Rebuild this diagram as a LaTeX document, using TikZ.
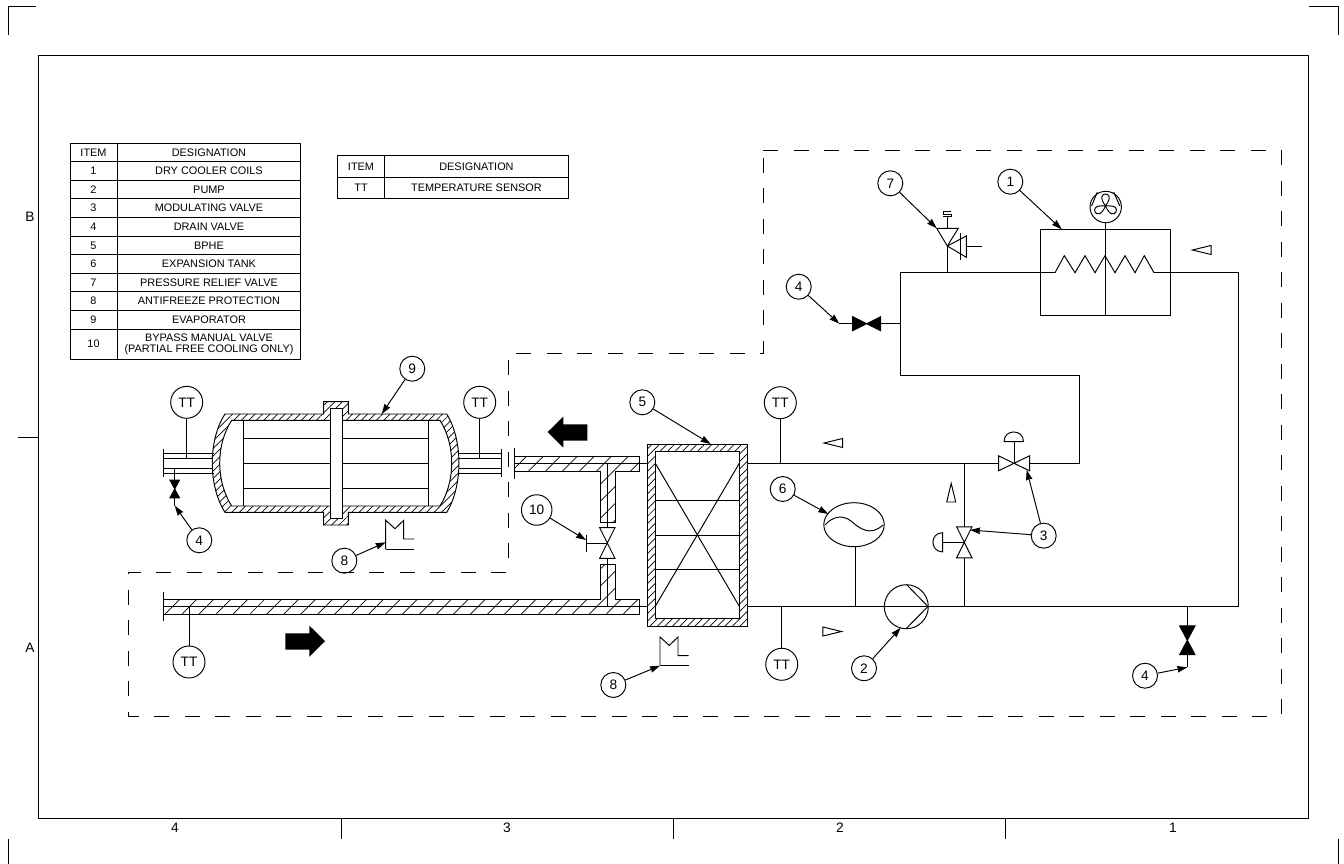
\documentclass[tikz,border=0pt]{standalone}
\usepackage{fontspec}
\setmainfont{Liberation Sans}
\usetikzlibrary{arrows.meta,patterns.meta,shapes.geometric}
\tikzstyle{pipe} = [line width=0.55pt,line join=miter]
\tikzstyle{pointer} = [line width=0.55pt,-{Stealth[length=2mm,width=1.3mm,inset=0.3pt]}]
\tikzstyle{zone} = [line width=0.55pt,dash pattern=on 3mm off 3.1mm]
\tikzstyle{tag} = [circle, draw, line width=0.55pt, minimum size=5mm, inner sep=0pt, font=\fontsize{7.8}{8}\selectfont]
\tikzstyle{sensor} = [tag, minimum size=6.4mm]
\tikzstyle{itemcell} = [draw, line width=0.55pt, minimum width=9.4mm, minimum height=3.72mm, inner sep=0pt, align=center, node distance=3.72mm, font=\fontsize{6.2}{6.3}\selectfont]
\tikzstyle{namecell} = [itemcell, minimum width=36.8mm, node distance=23.1mm]
\tikzstyle{sheet} = [font=\fontsize{7.8}{8}\selectfont, inner sep=0pt]
\tikzstyle{thinhatch} = [pipe, even odd rule, pattern={Lines[angle=45,distance=1.06mm,line width=0.4pt]}]
\tikzstyle{widehatch} = [pipe, pattern={Lines[angle=45,distance=2.4mm,line width=0.4pt]}]
\tikzset{
  pics/bowtie/.style n args={3}{code={\draw[pipe,fill=#3] (-#1,-#2) -- (#1,#2) -- (#1,-#2) -- (-#1,#2) -- cycle;}},
  pics/flowmark/.style={code={\draw[pipe] (-9.3,0) -- (9.3,-4.5) -- (9.3,4.5) -- cycle;}},
  pics/freeze/.style={code={\draw[pipe] (0,0) -- (0,-28.7) -- (9.3,-20.3) -- (18,-28.7) -- (18,-10) -- (28.6,-10);\draw[pipe] (0,0) -- (28.6,0);}},
  pics/blade/.style={code={\draw[pipe] (0,0) .. controls (-6.5,-9) and (-3,-12) .. (0,-12) .. controls (3,-12) and (6.5,-9) .. (0,0);}}
}

\begin{document}
\begin{tikzpicture}[x=0.02cm,y=-0.02cm]
        \useasboundingbox (0,0) rectangle (1344,864);
        \draw [pipe] (38,55.5) rectangle (1308,818.7);
        \draw [pipe] (36,6.5) -- (8.5,6.5) -- (8.5,35);
        \draw [pipe] (1309.3,6.5) -- (1338,6.5) -- (1338,35);
        \draw [pipe] (8.5,839) -- (8.5,864);
        \draw [pipe] (1338,839) -- (1338,864);
        \draw [pipe] (18,437) -- (38,437);
        \draw [pipe] (341,818.7) -- (341,839);
        \draw [pipe] (673,818.7) -- (673,839);
        \draw [pipe] (1005,818.7) -- (1005,839);
        \node (row-b) [sheet] at (30,217) {B};
        \node (row-a) [sheet] at (30,648) {A};
        \node (col-4) [sheet] at (175,828) {4};
        \node (col-3) [sheet, right of=col-4, xshift=5.64cm] {3};
        \node (col-2) [sheet, right of=col-3, xshift=5.66cm] {2};
        \node (col-1) [sheet, right of=col-2, xshift=5.66cm] {1};
        \draw [zone] (763,150) -- (1281,150) -- (1281,716) -- (128,716) -- (128,572) -- (508,572) -- (508,353) -- (763,353) -- cycle;

        \node (item-0) [itemcell] at (93.5,152.4) {ITEM};
        \node (name-0) [namecell, right of=item-0] {DESIGNATION};
        \node (item-1) [itemcell, below of=item-0] {1};
        \node (name-1) [namecell, right of=item-1] {DRY COOLER COILS};
        \node (item-2) [itemcell, below of=item-1] {2};
        \node (name-2) [namecell, right of=item-2] {PUMP};
        \node (item-3) [itemcell, below of=item-2] {3};
        \node (name-3) [namecell, right of=item-3] {MODULATING VALVE};
        \node (item-4) [itemcell, below of=item-3] {4};
        \node (name-4) [namecell, right of=item-4] {DRAIN VALVE};
        \node (item-5) [itemcell, below of=item-4] {5};
        \node (name-5) [namecell, right of=item-5] {BPHE};
        \node (item-6) [itemcell, below of=item-5] {6};
        \node (name-6) [namecell, right of=item-6] {EXPANSION TANK};
        \node (item-7) [itemcell, below of=item-6] {7};
        \node (name-7) [namecell, right of=item-7] {PRESSURE RELIEF VALVE};
        \node (item-8) [itemcell, below of=item-7] {8};
        \node (name-8) [namecell, right of=item-8] {ANTIFREEZE PROTECTION};
        \node (item-9) [itemcell, below of=item-8] {9};
        \node (name-9) [namecell, right of=item-9] {EVAPORATOR};
        \node (item-10) [itemcell, minimum height=6mm, below of=item-9, yshift=-1.14mm] {10};
        \node (name-10) [namecell, minimum height=6mm, right of=item-10] {BYPASS MANUAL VALVE\\(PARTIAL FREE COOLING ONLY)};
        \node (sensor-item-0) [itemcell, minimum height=4.4mm] at (361,166.3) {ITEM};
        \node (sensor-name-0) [namecell, minimum width=37mm, minimum height=4.4mm, right of=sensor-item-0] {DESIGNATION};
        \node (sensor-item-1) [itemcell, minimum height=4.3mm, below of=sensor-item-0, yshift=-0.63mm] {TT};
        \node (sensor-name-1) [namecell, minimum width=37mm, minimum height=4.3mm, right of=sensor-item-1] {TEMPERATURE SENSOR};

        \coordinate (hx-in-top) at (647.7,463.3);
        \coordinate (hx-out-top) at (747.3,463.3);
        \coordinate (hx-in-bottom) at (647.7,606.3);
        \coordinate (hx-out-bottom) at (747.3,606.3);
        \coordinate (pipe-top-left) at (514.7,463.3);
        \coordinate (pipe-bottom-left) at (163,606.3);
        \coordinate (bypass-top) at (607.3,463.3);
        \coordinate (bypass-bottom) at (607.3,606.3);
        \coordinate (bypass-valve) at (607.3,543);
        \coordinate (bypass-handle) at (586,543);
        \coordinate (mix-top) at (964.3,463.3);
        \coordinate (mix-bottom) at (964.3,606.3);
        \coordinate (mix-valve) at (964.3,542.3);
        \coordinate (mix-actuator) at (942.7,542.3);
        \coordinate (mod-valve) at (1014,463.3);
        \coordinate (mod-actuator) at (1014,441.7);
        \coordinate (corner-1) at (1079.3,463.3);
        \coordinate (corner-2) at (1079.3,375);
        \coordinate (corner-3) at (900.7,375);
        \coordinate (corner-4) at (900.7,272.7);
        \coordinate (coil-in) at (1055,272.7);
        \coordinate (coil-out) at (1154,272.7);
        \coordinate (corner-5) at (1238,272.7);
        \coordinate (corner-6) at (1238,606.3);
        \coordinate (drain-branch-top) at (900.7,323.7);
        \coordinate (drain-top-end) at (839.3,323.7);
        \coordinate (drain-top-valve) at (866.7,323.7);
        \coordinate (drain-branch-bottom) at (1187.3,606.3);
        \coordinate (drain-bottom-end) at (1187.3,667.3);
        \coordinate (drain-bottom-valve) at (1187.3,640.3);
        \coordinate (relief-branch) at (947.3,272.7);
        \coordinate (relief-valve) at (947.3,246);
        \coordinate (tank-branch) at (855,606.3);
        \coordinate (nozzle-left) at (174.7,468.3);
        \coordinate (drain-evap-end) at (174.7,505.7);
        \coordinate (drain-evap-valve) at (174.7,489);
        \coordinate (fan-center) at (1105.5,206);
        \coordinate (coil-stem) at (1105.3,315.3);

        \draw [widehatch] (514.7,456) -- (639,456) -- (639,471) -- (615,471) -- (615,522) -- (600,522) -- (600,471) -- (514.7,471) -- cycle;
        \draw [widehatch] (163,599) -- (600,599) -- (600,564) -- (615,564) -- (615,599) -- (639,599) -- (639,614) -- (163,614) -- cycle;
        \draw [pipe] (514.7,448) -- (514.7,478.7);
        \draw [pipe] (163,591.5) -- (163,621);
        \draw [pipe] (pipe-top-left) -- (hx-in-top);
        \draw [pipe] (pipe-bottom-left) -- (hx-in-bottom);
        \draw [pipe] (bypass-top) -- (607.3,527.7);
        \draw [pipe] (607.3,558.3) -- (bypass-bottom);
        \draw [pipe] (bypass-valve) -- (bypass-handle);
        \draw [pipe] (586,535) -- (586,552);
        \path (bypass-valve) pic[rotate=90] {bowtie={15.4}{7.7}{white}};

        \draw [thinhatch] (647.7,444) rectangle (747.3,626) (655.3,451.7) rectangle (739.3,618);
        \draw [pipe] (655.3,500) -- (739.3,500);
        \draw [pipe] (655.3,535) -- (739.3,535);
        \draw [pipe] (655.3,569) -- (739.3,569);
        \draw [pipe] (655.3,463.3) -- (739.3,606.3);
        \draw [pipe] (739.3,463.3) -- (655.3,606.3);

        \draw [pipe] (hx-out-top) -- (998.5,463.3);
        \draw [pipe] (1029.5,463.3) -- (corner-1) -- (corner-2) -- (corner-3) -- (corner-4) -- (coil-in);
        \draw [pipe] (coil-in) -- (1064.3,255.7) -- (1075,272.7) -- (1085,255.7) -- (1095,272.7) -- (1105,255.7) -- (1115,272.7) -- (1125,255.7) -- (1135,272.7) -- (1144.3,255.7) -- (coil-out);
        \draw [pipe] (coil-out) -- (corner-5) -- (corner-6) -- (hx-out-bottom);
        \draw [pipe] (1040.7,229.3) rectangle (1170,315.3);
        \draw [pipe] (1105.3,222.7) -- (coil-stem);
        \node (fan) [circle, draw, line width=0.55pt, minimum size=6.28mm, inner sep=0pt] at (1105.7,207) {};
        \draw [pipe] (1097.3,192.3) -- (1091.5,206);
        \draw [pipe] (1113.8,192.3) -- (1119.8,206);
        \path (fan-center) pic {blade};
        \path (fan-center) pic[rotate=120] {blade};
        \path (fan-center) pic[rotate=-120] {blade};

        \path (mod-valve) pic {bowtie={15.5}{7.5}{white}};
        \draw [pipe] (mod-valve) -- (mod-actuator);
        \draw [pipe] (1004,441.7) .. controls (1004,428.7) and (1023.5,428.7) .. (1023.5,441.7) -- cycle;
        \draw [pipe] (mix-top) -- (964.3,526.7);
        \draw [pipe] (964.3,557.7) -- (mix-bottom);
        \path (mix-valve) pic[rotate=90] {bowtie={15.5}{7.7}{white}};
        \draw [pipe] (mix-valve) -- (mix-actuator);
        \draw [pipe] (942.7,532.7) .. controls (929.7,532.7) and (929.7,551.9) .. (942.7,551.9) -- cycle;

        \draw [pipe] (drain-top-end) -- (852.7,323.7);
        \draw [pipe] (880.7,323.7) -- (drain-branch-top);
        \path (drain-top-valve) pic {bowtie={14}{7}{black}};
        \draw [pipe] (drain-branch-bottom) -- (1187.3,626);
        \draw [pipe] (1187.3,654.7) -- (drain-bottom-end);
        \path (drain-bottom-valve) pic[rotate=90] {bowtie={14.4}{7.7}{black}};

        \draw [pipe] (relief-branch) -- (relief-valve);
        \draw [pipe] (relief-valve) -- (936.7,228.3) -- (958.3,228.3) -- cycle;
        \draw [pipe] (relief-valve) -- (966.3,236) -- (966.3,257.3) -- cycle;
        \draw [pipe] (960,233) -- (960,260);
        \draw [pipe] (966.3,246.7) -- (982.3,246.7);
        \draw [pipe] (947.3,228.3) -- (947.3,216.7);
        \draw [pipe] (943.3,216.7) -- (951.3,216.7) -- (951.3,214) -- (943.3,214) -- (943.3,211.7) -- (951.3,211.7);

        \node (tank) [ellipse, draw, line width=0.55pt, minimum width=12.1mm, minimum height=8.8mm, inner sep=0pt] at (854,524.7) {};
        \draw [pipe] (825,525) .. controls (832,517) and (842,514) .. (851,521) .. controls (859,528) and (870,537) .. (883,525);
        \draw [pipe] (tank-branch) -- (855,546.7);
        \node (pump) [circle, draw, line width=0.55pt, minimum size=8.8mm, inner sep=0pt] at (906.3,606.7) {};
        \draw [pipe] (906.7,584.7) -- (928,606.5) -- (906.7,628);

        \path (833.3,443) pic[rotate=0] {flowmark};
        \path (832.2,631.5) pic[rotate=180] {flowmark};
        \path (951.2,492.7) pic[rotate=-90] {flowmark};
        \path (1201.7,250) pic[rotate=0] {flowmark};
        \fill (547.7,432) -- (563.3,416.7) -- (563.3,424.3) -- (587.3,424.3) -- (587.3,440.7) -- (563.3,440.7) -- (563.3,447.7) -- cycle;
        \fill (325,641) -- (309.4,625.7) -- (309.4,633.3) -- (285.4,633.3) -- (285.4,649.7) -- (309.4,649.7) -- (309.4,656.7) -- cycle;

        \draw [thinhatch] (225,414) -- (323.7,414) -- (323.7,401.7) -- (348.3,401.7) -- (348.3,414) -- (446.7,414) .. controls (463,440) and (463,486) .. (446.7,512.3) -- (348.3,512.3) -- (348.3,525) -- (323.7,525) -- (323.7,512.3) -- (225,512.3) .. controls (208,486) and (208,440) .. (225,414) -- cycle
                                   (231.7,420.3) -- (440,420.3) .. controls (455.6,445) and (455.6,481) .. (440,506) -- (231.7,506) .. controls (215.7,481) and (215.7,445) .. (231.7,420.3) -- cycle;
        \draw [pipe, fill=white] (330,408.3) rectangle (342.3,518.3);
        \draw [pipe] (243.3,420.3) -- (243.3,506);
        \draw [pipe] (428.3,420.3) -- (428.3,506);
        \draw [pipe] (243.3,438.7) -- (330,438.7);
        \draw [pipe] (243.3,463.7) -- (330,463.7);
        \draw [pipe] (243.3,488) -- (330,488);
        \draw [pipe] (342.3,438.7) -- (428.3,438.7);
        \draw [pipe] (342.3,463.7) -- (428.3,463.7);
        \draw [pipe] (342.3,488) -- (428.3,488);
        \draw [pipe] (163.3,448.7) -- (163.3,477.3);
        \draw [pipe] (163.3,453.7) -- (214,453.7);
        \draw [pipe] (163.3,458.7) -- (213,458.7);
        \draw [pipe] (163.3,468.3) -- (213,468.3);
        \draw [pipe] (163.3,473.3) -- (214,473.3);
        \draw [pipe] (501,448.7) -- (501,477.3);
        \draw [pipe] (458,453.7) -- (501,453.7);
        \draw [pipe] (459,458.7) -- (501,458.7);
        \draw [pipe] (459,468.3) -- (501,468.3);
        \draw [pipe] (458,473.3) -- (501,473.3);
        \draw [pipe] (nozzle-left) -- (174.7,480);
        \draw [pipe] (174.7,497.7) -- (drain-evap-end);
        \path (drain-evap-valve) pic[rotate=90] {bowtie={8.8}{4.7}{black}};
        \path (385.7,549) pic {freeze};
        \path (660,665.7) pic {freeze};

        \coordinate (stem-evap-left) at (186.7,458.7);
        \coordinate (stem-evap-right) at (479.7,458.7);
        \coordinate (stem-hx-top) at (780.3,463.3);
        \coordinate (stem-hx-bottom) at (781.7,606.3);
        \coordinate (stem-pipe) at (189,606.3);
        \node (tt-evap-left) [sensor, above of=stem-evap-left, yshift=0.128cm] {TT};
        \node (tt-evap-right) [sensor, above of=stem-evap-right, yshift=0.128cm] {TT};
        \node (tt-hx-top) [sensor, above of=stem-hx-top, yshift=0.212cm] {TT};
        \node (tt-hx-bottom) [sensor, below of=stem-hx-bottom, yshift=-0.16cm] {TT};
        \node (tt-pipe) [sensor, below of=stem-pipe, yshift=-0.114cm] {TT};
        \draw [pipe] (tt-evap-left) -- (stem-evap-left);
        \draw [pipe] (tt-evap-right) -- (stem-evap-right);
        \draw [pipe] (tt-hx-top) -- (stem-hx-top);
        \draw [pipe] (tt-hx-bottom) -- (stem-hx-bottom);
        \draw [pipe] (tt-pipe) -- (stem-pipe);

        \coordinate (tip-1) at (1061.7,229.3);
        \coordinate (tip-2) at (900.7,627.7);
        \coordinate (tip-3) at (1026.7,470);
        \coordinate (tip-3b) at (970,530);
        \coordinate (tip-5) at (710.7,444);
        \coordinate (tip-6) at (828.3,514);
        \coordinate (tip-7) at (936.7,228.3);
        \coordinate (tip-8) at (385.7,542.3);
        \coordinate (tip-8b) at (660,665.7);
        \coordinate (tip-9) at (381.7,414);
        \coordinate (tip-10) at (586,540);
        \node (tag-1) [tag, above of=tip-1, xshift=-1.028cm, yshift=-0.048cm] {1};
        \node (tag-2) [tag, below of=tip-2, xshift=-0.734cm, yshift=0.188cm] {2};
        \node (tag-3) [tag, below of=tip-3, xshift=0.34cm, yshift=-0.314cm] {3};
        \node (tag-4-top) [tag, above of=drain-top-end, xshift=-0.812cm, yshift=-0.26cm] {4};
        \node (tag-4-evap) [tag, below of=drain-evap-end, xshift=0.492cm, yshift=0.308cm] {4};
        \node (tag-4-bottom) [tag, left of=drain-bottom-end, xshift=0.154cm, yshift=-0.168cm] {4};
        \node (tag-5) [tag, above of=tip-5, xshift=-1.368cm, yshift=-0.166cm] {5};
        \node (tag-6) [tag, left of=tip-6, xshift=0.088cm, yshift=0.5cm] {6};
        \node (tag-7) [tag, above of=tip-7, xshift=-0.928cm, yshift=-0.1cm] {7};
        \node (tag-8) [tag, left of=tip-8, xshift=0.172cm, yshift=-0.368cm] {8};
        \node (tag-8b) [tag, left of=tip-8b, xshift=0.066cm, yshift=-0.386cm] {8};
        \node (tag-9) [tag, above of=tip-9, xshift=0.612cm, yshift=-0.094cm] {9};
        \node (tag-10) [tag, minimum size=6.1mm, left of=tip-10, xshift=0.014cm, yshift=0.6cm] {10};
        \draw [pointer] (tag-1) -- (tip-1);
        \draw [pointer] (tag-2) -- (tip-2);
        \draw [pointer] (tag-3) -- (tip-3);
        \draw [pointer] (tag-3) -- (tip-3b);
        \draw [pointer] (tag-4-top) -- (drain-top-end);
        \draw [pointer] (tag-4-evap) -- (drain-evap-end);
        \draw [pointer] (tag-4-bottom) -- (drain-bottom-end);
        \draw [pointer] (tag-5) -- (tip-5);
        \draw [pointer] (tag-6) -- (tip-6);
        \draw [pointer] (tag-7) -- (tip-7);
        \draw [pointer] (tag-8) -- (tip-8);
        \draw [pointer] (tag-8b) -- (tip-8b);
        \draw [pointer] (tag-9) -- (tip-9);
        \draw [pointer] (tag-10) -- (tip-10);
\end{tikzpicture}
\end{document}
